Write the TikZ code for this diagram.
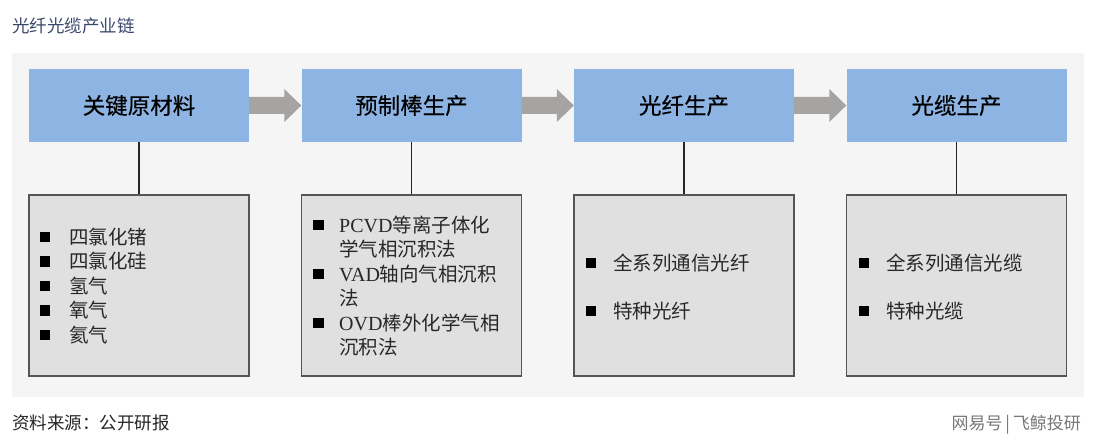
\documentclass[tikz,border=0pt]{standalone}
\usepackage{fontspec}
\usetikzlibrary{calc}
\setmainfont{Liberation Serif}
\newfontfamily\cjk{Noto Sans CJK SC}
\newfontfamily\cjkb{Noto Sans CJK SC}[FakeBold=0.4]
\newfontfamily\lser{Liberation Serif}
\definecolor{titleblue}{RGB}{58,72,108}
\definecolor{panelgray}{RGB}{245,245,245}
\definecolor{boxblue}{RGB}{141,180,226}
\definecolor{boxgray}{RGB}{224,224,224}
\definecolor{boxline}{RGB}{85,85,85}
\definecolor{arrowgray}{RGB}{166,163,163}
\definecolor{bodytext}{RGB}{40,40,40}
\definecolor{marktext}{RGB}{120,120,120}
\tikzset{
  stagebox/.style={fill=boxblue, minimum width=220pt, minimum height=73pt, inner sep=0pt,
    font=\cjkb\fontsize{22.5}{26}\selectfont, text=black},
  listbox/.style={fill=boxgray, draw=boxline, line width=1.1pt, minimum width=220pt, minimum height=181pt, inner sep=0pt},
  bulletsq/.style={fill=black, minimum size=10.5pt, inner sep=0pt},
  itemtext/.style={anchor=west, inner sep=0pt, text=bodytext, font=\cjk\fontsize{19.5}{22}\selectfont},
  linkline/.style={draw=black!85, line width=1.3pt},
  flowarrow/.style={fill=arrowgray}
}
\newcommand{\chainarrow}[2]{%
  \fill[flowarrow] ($(#1.east)+(0,-8.5)$) -- ($(#2.west)+(-17,-8.5)$) -- ($(#2.west)+(-17,-16.5)$)
    -- (#2.west) -- ($(#2.west)+(-17,16.5)$) -- ($(#2.west)+(-17,8.5)$) -- ($(#1.east)+(0,8.5)$) -- cycle;}
\begin{document}
\begin{tikzpicture}[x=1pt,y=-1pt]
\useasboundingbox[fill=white] (0,0) rectangle (1099,443);
% title
\node[anchor=west, inner sep=0pt, text=titleblue, font=\cjk\fontsize{17.5}{20}\selectfont] (title) at (12,26) {光纤光缆产业链};
% panel
\fill[panelgray] (12,53) rectangle (1084,397);
% stage boxes
\node[stagebox] (b1) at (139,105.5) {关键原材料};
\node[stagebox] (b2) at (411.5,105.5) {预制棒生产};
\node[stagebox] (b3) at (684,105.5) {光纤生产};
\node[stagebox] (b4) at (956.5,105.5) {光缆生产};
% arrows
\chainarrow{b1}{b2}
\chainarrow{b2}{b3}
\chainarrow{b3}{b4}
% list boxes
\node[listbox] (g1) at (139,285.5) {};
\node[listbox] (g2) at (411.5,285.5) {};
\node[listbox] (g3) at (684,285.5) {};
\node[listbox] (g4) at (956.5,285.5) {};
\foreach \i in {1,2,3,4} {\draw[linkline] (b\i.south) -- (g\i.north);}
% box 1 items
\foreach \y/\t [count=\k] in {237/四氯化锗, 261.5/四氯化硅, 286/氢气, 310.5/氧气, 335/氦气} {
  \node[bulletsq] (m1\k) at (45,\y) {};
  \node[itemtext] (t1\k) at (69,\y) {\t};
}
% box 2 items
\node[bulletsq] (m21) at (318.5,225) {};
\node[itemtext] (t21) at (339,225) {{\lser\fontsize{20}{22}\selectfont PCVD}等离子体化};
\node[itemtext] (t22) at (339,249.5) {学气相沉积法};
\node[bulletsq] (m22) at (318.5,274) {};
\node[itemtext] (t23) at (339,274) {{\lser\fontsize{20}{22}\selectfont VAD}轴向气相沉积};
\node[itemtext] (t24) at (339,298.5) {法};
\node[bulletsq] (m23) at (318.5,323) {};
\node[itemtext] (t25) at (339,323) {{\lser\fontsize{20}{22}\selectfont OVD}棒外化学气相};
\node[itemtext] (t26) at (339,347.5) {沉积法};
% box 3 items
\node[bulletsq] (m31) at (591,263) {};
\node[itemtext] (t31) at (613,263) {全系列通信光纤};
\node[bulletsq] (m32) at (591,311) {};
\node[itemtext] (t32) at (613,311) {特种光纤};
% box 4 items
\node[bulletsq] (m41) at (864,263) {};
\node[itemtext] (t41) at (886,263) {全系列通信光缆};
\node[bulletsq] (m42) at (864,311) {};
\node[itemtext] (t42) at (886,311) {特种光缆};
% footer
\node[anchor=west, inner sep=0pt, text=black!85, font=\cjk\fontsize{17.5}{20}\selectfont] (src) at (12,423) {资料来源：公开研报};
\node[anchor=east, inner sep=0pt, text=marktext, font=\cjk\fontsize{17}{20}\selectfont] (mark) at (1081,425) {网易号\,|\,飞鲸投研};
\end{tikzpicture}
\end{document}
